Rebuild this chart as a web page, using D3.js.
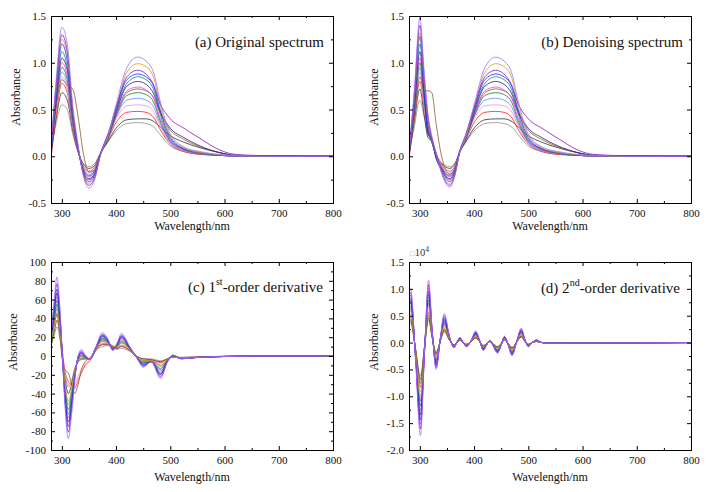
<!DOCTYPE html>
<html><head><meta charset="utf-8">
<script src="https://cdn.jsdelivr.net/npm/d3@7"></script>
<style>body{margin:0;background:#fff}</style>
</head><body><svg id="chart" width="709" height="492"></svg>
<script>
// ---------- DATA ----------
const xTicks = [300,400,500,600,700,800];
const xMinorTicks = [350,450,550,650,750];
const yTicksSpec = [-0.5,0,0.5,1,1.5];
const yMinorSpec = [-0.25,0.25,0.75,1.25];
const yTicksFirst = [-100,-80,-60,-40,-20,0,20,40,60,80,100];
const yMinorFirst = [-90,-70,-50,-30,-10,10,30,50,70,90];
const yTicksSecond = [-2,-1.5,-1,-0.5,0,0.5,1,1.5];
const yMinorSecond = [-1.75,-1.25,-0.75,-0.25,0.25,0.75,1.25];

const seriesColors = ['#a070ff','#8a10c8','#d0a020','#1030ff','#108080','#202080','#ff30ff','#108010','#8b5a2b','#5a8cff','#ff8cc8','#ff2020','#303030','#909090'];

// (a) original spectrum
const wlOriginal = [280,290,300,310,320,330,340,350,360,372,385,400,420,440,455,470,480,500,525,555,590,620,700,800];
const absOriginal = [
 [0.08,0.85,1.38,1.20,0.55,0.12,-0.22,-0.34,-0.26,0.03,0.22,0.55,0.95,1.06,1.02,0.88,0.62,0.24,0.10,0.05,0.02,0.01,0,0],
 [0.10,0.80,1.30,1.12,0.50,0.10,-0.20,-0.31,-0.24,0.04,0.24,0.52,0.85,0.92,0.88,0.75,0.58,0.40,0.30,0.19,0.07,0.02,0.003,0],
 [0.06,0.76,1.25,1.08,0.48,0.09,-0.19,-0.29,-0.23,0.03,0.21,0.52,0.90,0.99,0.96,0.83,0.57,0.22,0.09,0.04,0.015,0.005,0,0],
 [0.04,0.72,1.20,1.02,0.45,0.08,-0.18,-0.27,-0.21,0.04,0.22,0.50,0.82,0.88,0.85,0.74,0.52,0.20,0.08,0.04,0.01,0.004,0,0],
 [0.05,0.68,1.12,0.95,0.42,0.07,-0.17,-0.25,-0.20,0.04,0.20,0.48,0.78,0.85,0.82,0.70,0.48,0.18,0.08,0.03,0.01,0.004,0,0],
 [0.03,0.63,1.05,0.92,0.42,0.08,-0.16,-0.24,-0.19,0.03,0.20,0.47,0.75,0.80,0.77,0.66,0.50,0.30,0.20,0.11,0.04,0.01,0.002,0],
 [0.06,0.62,1.00,0.86,0.38,0.07,-0.14,-0.22,-0.17,0.04,0.20,0.45,0.70,0.74,0.71,0.61,0.43,0.17,0.07,0.03,0.01,0.003,0,0],
 [0.02,0.58,0.95,0.82,0.36,0.06,-0.14,-0.21,-0.16,0.04,0.19,0.43,0.65,0.68,0.66,0.57,0.40,0.16,0.07,0.03,0.01,0.003,0,0],
 [0.05,0.55,0.82,0.76,0.72,0.42,0.02,-0.17,-0.15,0.03,0.20,0.45,0.68,0.72,0.70,0.62,0.48,0.28,0.18,0.10,0.04,0.01,0.002,0],
 [0.07,0.56,0.90,0.77,0.34,0.06,-0.13,-0.20,-0.15,0.04,0.19,0.42,0.60,0.62,0.60,0.52,0.37,0.15,0.06,0.03,0.01,0.003,0,0],
 [0.09,0.52,0.85,0.72,0.32,0.06,-0.12,-0.18,-0.14,0.04,0.19,0.40,0.54,0.55,0.54,0.47,0.34,0.14,0.06,0.03,0.01,0.003,0,0],
 [-0.03,0.46,0.78,0.68,0.30,0.05,-0.11,-0.16,-0.12,0.04,0.18,0.36,0.47,0.48,0.47,0.41,0.30,0.13,0.05,0.02,0.01,0.003,0,0],
 [0.02,0.42,0.68,0.60,0.28,0.05,-0.09,-0.13,-0.10,0.04,0.16,0.30,0.39,0.40,0.40,0.37,0.32,0.22,0.15,0.09,0.04,0.01,0.002,0],
 [0.05,0.36,0.55,0.50,0.24,0.04,-0.08,-0.11,-0.08,0.04,0.15,0.27,0.35,0.36,0.35,0.31,0.24,0.11,0.05,0.02,0.01,0.003,0,0]
];

// (b) denoising spectrum
const wlDenoised = [280,290,300,308,315,322,330,340,355,365,373,385,400,420,440,455,470,480,500,525,555,590,620,700,800];
const absDenoised = [
 [0.05,0.72,1.48,0.90,0.45,0.22,0.04,-0.18,-0.33,-0.20,0.03,0.22,0.55,0.95,1.06,1.02,0.88,0.62,0.24,0.10,0.05,0.02,0.01,0,0],
 [0.06,0.68,1.40,0.85,0.42,0.20,0.03,-0.17,-0.31,-0.19,0.04,0.24,0.52,0.85,0.92,0.88,0.75,0.58,0.40,0.30,0.19,0.07,0.02,0.003,0],
 [0.02,0.64,1.32,0.80,0.40,0.19,0.02,-0.16,-0.29,-0.18,0.03,0.21,0.52,0.90,0.99,0.96,0.83,0.57,0.22,0.09,0.04,0.015,0.005,0,0],
 [0.03,0.62,1.28,0.72,0.26,0.19,-0.02,-0.15,-0.27,-0.17,0.04,0.22,0.50,0.82,0.88,0.85,0.74,0.52,0.20,0.08,0.04,0.01,0.004,0,0],
 [0.04,0.58,1.20,0.74,0.36,0.18,0.02,-0.14,-0.25,-0.16,0.04,0.20,0.48,0.78,0.85,0.82,0.70,0.48,0.18,0.08,0.03,0.01,0.004,0,0],
 [0.02,0.54,1.12,0.66,0.24,0.18,-0.02,-0.13,-0.24,-0.15,0.03,0.20,0.47,0.75,0.80,0.77,0.66,0.50,0.30,0.20,0.11,0.04,0.01,0.002,0],
 [0.05,0.52,1.05,0.66,0.33,0.16,0.02,-0.12,-0.22,-0.14,0.04,0.20,0.45,0.70,0.74,0.71,0.61,0.43,0.17,0.07,0.03,0.01,0.003,0,0],
 [0.00,0.50,1.00,0.62,0.31,0.15,0.01,-0.12,-0.21,-0.13,0.04,0.19,0.43,0.65,0.68,0.66,0.57,0.40,0.16,0.07,0.03,0.01,0.003,0,0],
 [0.04,0.45,0.85,0.70,0.70,0.68,0.35,0.00,-0.19,-0.13,0.03,0.20,0.45,0.68,0.72,0.70,0.62,0.48,0.28,0.18,0.10,0.04,0.01,0.002,0],
 [0.05,0.48,0.95,0.58,0.29,0.15,0.01,-0.11,-0.20,-0.12,0.04,0.19,0.42,0.60,0.62,0.60,0.52,0.37,0.15,0.06,0.03,0.01,0.003,0,0],
 [0.06,0.46,0.90,0.56,0.30,0.18,0.03,-0.10,-0.18,-0.11,0.04,0.19,0.40,0.54,0.55,0.54,0.47,0.34,0.14,0.06,0.03,0.01,0.003,0,0],
 [-0.04,0.42,0.80,0.52,0.28,0.17,0.03,-0.09,-0.16,-0.10,0.04,0.18,0.36,0.47,0.48,0.47,0.41,0.30,0.13,0.05,0.02,0.01,0.003,0,0],
 [0.01,0.38,0.72,0.44,0.20,0.16,-0.01,-0.08,-0.13,-0.08,0.04,0.16,0.30,0.39,0.40,0.40,0.37,0.32,0.22,0.15,0.09,0.04,0.01,0.002,0],
 [0.03,0.32,0.60,0.42,0.24,0.15,0.03,-0.07,-0.11,-0.07,0.04,0.15,0.27,0.35,0.36,0.35,0.31,0.24,0.11,0.05,0.02,0.01,0.003,0,0]
];

// (c) 1st-order derivative
const wlFirst = [280,286,291,296,301,306,312,318,324,330,336,343,352,363,375,385,394,402,410,425,440,450,465,482,495,505,520,550,600,650,800];
const derivFirst = [
 [20,60,84,55,0,-55,-88,-62,-25,0,7,1,-3,10,25,18,6,14,24,10,-4,-12,-6,-24,-6,1,-3,-1.5,-0.5,-0.1,0],
 [22,56,77,50,0,-50,-81,-57,-23,-1,5,0,-3,10,23,17,6,13,22,10,-3,-11,-6,-22,-6,1,-3,-1.5,-0.5,-0.1,0],
 [14,33,46,30,-1,-30,-48,-35,-15,-5,-2,-2,-3,8,16,14,10,10,14,7,-2,-5,-5,-11,-4,-1,-2,-1.5,-0.5,-0.1,0],
 [15,51,71,46,0,-46,-75,-53,-21,-1,4,0,-3,9,22,17,7,13,21,9,-3,-10,-6,-20,-5,0.5,-3,-1.5,-0.5,-0.1,0],
 [14,42,59,38,0,-38,-62,-44,-18,-3,1,-1,-3,9,19,15,8,11,18,8,-3,-7,-6,-16,-5,0,-2.5,-1.5,-0.5,-0.1,0],
 [12,48,67,44,0,-44,-70,-50,-20,-2,3,-1,-3,9,21,16,7,12,20,9,-3,-9,-6,-19,-5,0,-2.5,-1.5,-0.5,-0.1,0],
 [18,45,63,41,0,-41,-66,-47,-19,-3,2,-1,-3,9,20,16,8,12,19,9,-3,-8,-6,-18,-5,0,-2.5,-1.5,-0.5,-0.1,0],
 [10,39,55,36,-1,-35,-57,-41,-17,-4,0,-2,-3,8,18,15,9,11,16,8,-3,-7,-6,-14,-4,-0.5,-2.5,-1.5,-0.5,-0.1,0],
 [10,32,45,25,-5,-15,-18,-30,-40,-30,-15,-6,-2,8,16,14,10,10,14,8,-2,-5,-5,-10,-4,-1,-2,-1.5,-0.5,-0.1,0],
 [16,36,50,33,-1,-32,-52,-38,-16,-5,-1,-2,-3,8,17,14,9,10,15,8,-2,-6,-5,-13,-4,-0.5,-2,-1.5,-0.5,-0.1,0],
 [25,40,52,35,5,-20,-30,-33,-30,-22,-14,-8,-4,7,15,14,11,10,12,7,-2,-4,-5,-8,-4,-1,-2,-1,-0.4,-0.1,0],
 [30,36,44,30,5,-17,-27,-31,-34,-26,-18,-10,-5,6,13,13,11,9,11,6,-2,-4,-4,-7,-3,-1,-2,-1,-0.4,-0.1,0],
 [12,26,38,25,-1,-25,-40,-30,-14,-6,-3,-3,-3,7,12,12,10,8,10,6,-1,-3,-4,-6,-3,-1,-1.5,-1,-0.3,-0.1,0],
 [10,22,31,20,0,-20,-33,-26,-13,-6,-4,-3,-3,6,10,11,9,7,8,5,-1,-3,-3,-5,-3,-1,-1.5,-1,-0.3,-0.1,0]
];

// (d) 2nd-order derivative (x10^4)
const wlSecond = [280,283,292,301,309,316,323,330,338,345,355,363,368,374,380,386,395,403,410,417,423,429,436,443,450,456,463,470,478,487,494,500,507,515,525,540,800];
const derivSecond = [
 [0.92,1.00,-0.30,-1.73,-0.10,1.16,0.20,-0.50,0.10,0.54,0.10,-0.10,0.00,0.10,0.00,-0.08,0.05,0.22,0.05,-0.15,-0.05,0.04,-0.08,-0.20,-0.05,0.12,-0.05,-0.25,0.00,0.27,0.05,-0.08,0.00,0.05,0.00,-0.01,0],
 [0.86,0.93,-0.28,-1.61,-0.09,1.08,0.19,-0.47,0.09,0.50,0.09,-0.09,0.00,0.09,0.00,-0.07,0.05,0.20,0.05,-0.14,-0.05,0.04,-0.07,-0.19,-0.05,0.11,-0.05,-0.23,0.00,0.25,0.05,-0.07,0.00,0.05,0.00,-0.01,0],
 [0.53,0.58,-0.17,-1.00,-0.06,0.67,0.12,-0.29,0.06,0.31,0.06,-0.06,0.00,0.06,0.00,-0.05,0.03,0.13,0.03,-0.09,-0.03,0.02,-0.05,-0.12,-0.03,0.07,-0.03,-0.15,0.00,0.16,0.03,-0.05,0.00,0.03,0.00,-0.01,0],
 [0.76,0.83,-0.25,-1.44,-0.08,0.96,0.17,-0.42,0.08,0.45,0.08,-0.08,0.00,0.08,0.00,-0.07,0.04,0.18,0.04,-0.12,-0.04,0.03,-0.07,-0.17,-0.04,0.10,-0.04,-0.21,0.00,0.22,0.04,-0.07,0.00,0.04,0.00,-0.01,0],
 [0.58,0.63,-0.19,-1.09,-0.06,0.73,0.13,-0.32,0.06,0.34,0.06,-0.06,0.00,0.06,0.00,-0.05,0.03,0.14,0.03,-0.09,-0.03,0.03,-0.05,-0.13,-0.03,0.08,-0.03,-0.16,0.00,0.17,0.03,-0.05,0.00,0.03,0.00,-0.01,0],
 [0.72,0.78,-0.23,-1.35,-0.08,0.90,0.16,-0.39,0.08,0.42,0.08,-0.08,0.00,0.08,0.00,-0.06,0.04,0.17,0.04,-0.12,-0.04,0.03,-0.06,-0.16,-0.04,0.09,-0.04,-0.20,0.00,0.21,0.04,-0.06,0.00,0.04,0.00,-0.01,0],
 [0.81,0.88,-0.26,-1.52,-0.09,1.02,0.18,-0.44,0.09,0.48,0.09,-0.09,0.00,0.09,0.00,-0.07,0.04,0.19,0.04,-0.13,-0.04,0.04,-0.07,-0.18,-0.04,0.11,-0.04,-0.22,0.00,0.24,0.04,-0.07,0.00,0.04,0.00,-0.01,0],
 [0.63,0.68,-0.20,-1.18,-0.07,0.79,0.14,-0.34,0.07,0.37,0.07,-0.07,0.00,0.07,0.00,-0.05,0.03,0.15,0.03,-0.10,-0.03,0.03,-0.05,-0.14,-0.03,0.08,-0.03,-0.17,0.00,0.18,0.03,-0.05,0.00,0.03,0.00,-0.01,0],
 [0.40,0.44,-0.13,-0.76,-0.04,0.51,0.09,-0.22,0.04,0.24,0.04,-0.04,0.00,0.04,0.00,-0.04,0.02,0.10,0.02,-0.07,-0.02,0.02,-0.04,-0.09,-0.02,0.05,-0.02,-0.11,0.00,0.12,0.02,-0.04,0.00,0.02,0.00,0.00,0],
 [0.67,0.73,-0.22,-1.26,-0.07,0.85,0.15,-0.37,0.07,0.39,0.07,-0.07,0.00,0.07,0.00,-0.06,0.04,0.16,0.04,-0.11,-0.04,0.03,-0.06,-0.15,-0.04,0.09,-0.04,-0.18,0.00,0.20,0.04,-0.06,0.00,0.04,0.00,-0.01,0],
 [0.49,0.53,-0.16,-0.92,-0.05,0.61,0.11,-0.27,0.05,0.29,0.05,-0.05,0.00,0.05,0.00,-0.04,0.03,0.12,0.03,-0.08,-0.03,0.02,-0.04,-0.11,-0.03,0.06,-0.03,-0.13,0.00,0.14,0.03,-0.04,0.00,0.03,0.00,-0.01,0],
 [0.44,0.48,-0.14,-0.83,-0.05,0.56,0.10,-0.24,0.05,0.26,0.05,-0.05,0.00,0.05,0.00,-0.04,0.02,0.11,0.02,-0.07,-0.02,0.02,-0.04,-0.10,-0.02,0.06,-0.02,-0.12,0.00,0.13,0.02,-0.04,0.00,0.02,0.00,0.00,0],
 [0.37,0.40,-0.12,-0.69,-0.04,0.46,0.08,-0.20,0.04,0.22,0.04,-0.04,0.00,0.04,0.00,-0.03,0.02,0.09,0.02,-0.06,-0.02,0.02,-0.03,-0.08,-0.02,0.05,-0.02,-0.10,0.00,0.11,0.02,-0.03,0.00,0.02,0.00,0.00,0],
 [0.33,0.36,-0.11,-0.62,-0.04,0.42,0.07,-0.18,0.04,0.19,0.04,-0.04,0.00,0.04,0.00,-0.03,0.02,0.08,0.02,-0.05,-0.02,0.01,-0.03,-0.07,-0.02,0.04,-0.02,-0.09,0.00,0.10,0.02,-0.03,0.00,0.02,0.00,0.00,0]
];

// ---------- DRAWING ----------
const FONT = '"Liberation Serif","Times New Roman",serif';
const svg = d3.select('#chart');

function drawPanel(p) {
  const x = d3.scaleLinear().domain([280, 800]).range([p.L, p.R]);
  const y = d3.scaleLinear().domain(p.yDom).range([p.B, p.T]);
  const g = svg.append('g');
  svg.append('clipPath').attr('id', 'clip' + p.id)
    .append('rect').attr('x', p.L).attr('y', p.T).attr('width', p.R - p.L).attr('height', p.B - p.T);

  const wl = p.wl;
  const line = d3.line().x((d, i) => x(wl[i])).y(d => y(d)).curve(d3.curveMonotoneX);
  const lg = g.append('g').attr('clip-path', `url(#clip${p.id})`);
  for (let i = p.series.length - 1; i >= 0; i--) {
    lg.append('path').attr('d', line(p.series[i]))
      .attr('fill', 'none').attr('stroke', seriesColors[i]).attr('stroke-width', 0.8);
  }

  const addAxis = (fn, scale, vals, size, tr, fmt, pad) => {
    const a = fn(scale).tickValues(vals).tickSize(-size).tickPadding(pad || 0)
      .tickFormat(fmt || (() => ''));
    const ag = g.append('g').attr('transform', tr).call(a);
    ag.select('.domain').remove();
    ag.selectAll('line').attr('stroke', '#000').attr('stroke-width', 1);
    ag.selectAll('text').attr('font-family', FONT).attr('font-size', 11).attr('fill', '#111');
    return ag;
  };
  addAxis(d3.axisBottom, x, xTicks, 4, `translate(0,${p.B})`, d => d, 6);
  addAxis(d3.axisBottom, x, xMinorTicks, 2, `translate(0,${p.B})`);
  addAxis(d3.axisTop, x, xTicks, 4, `translate(0,${p.T})`);
  addAxis(d3.axisTop, x, xMinorTicks, 2, `translate(0,${p.T})`);
  addAxis(d3.axisLeft, y, p.yTicks, 4, `translate(${p.L},0)`, p.fmt, 5);
  addAxis(d3.axisLeft, y, p.yMinor, 2, `translate(${p.L},0)`);
  addAxis(d3.axisRight, y, p.yTicks, 4, `translate(${p.R},0)`);
  addAxis(d3.axisRight, y, p.yMinor, 2, `translate(${p.R},0)`);

  g.append('rect').attr('x', p.L + 0.5).attr('y', p.T + 0.5)
    .attr('width', p.R - p.L).attr('height', p.B - p.T)
    .attr('fill', 'none').attr('stroke', '#000').attr('stroke-width', 1);

  g.append('text').attr('x', (p.L + p.R) / 2).attr('y', p.xtY)
    .attr('text-anchor', 'middle').attr('font-family', FONT).attr('font-size', 12).attr('fill', '#111')
    .text('Wavelength/nm');
  g.append('text').attr('transform', `translate(${p.ytX},${p.ytY}) rotate(-90)`)
    .attr('text-anchor', 'middle').attr('font-family', FONT).attr('font-size', 12).attr('fill', '#111')
    .text('Absorbance');

  const t = g.append('text').attr('x', p.titleX).attr('y', p.titleY)
    .attr('text-anchor', 'end').attr('font-family', FONT).attr('font-size', 15).attr('fill', '#111');
  p.title.forEach(part => {
    const ts = t.append('tspan').text(part.t);
    if (part.sup) ts.attr('font-size', 10).attr('dy', -7);
    else if (part.after) ts.attr('dy', 7);
  });
}

const fmt1 = d => d.toFixed(1);
const fmt0 = d => String(d);

drawPanel({id: 'a', L: 51, R: 333, T: 16, B: 203, yDom: [-0.5, 1.5], wl: wlOriginal, series: absOriginal,
  yTicks: yTicksSpec, yMinor: yMinorSpec, fmt: fmt1, xtY: 230, ytX: 20, ytY: 97,
  titleX: 324, titleY: 47, title: [{t: '(a) Original spectrum'}]});
drawPanel({id: 'b', L: 409, R: 691, T: 16, B: 203, yDom: [-0.5, 1.5], wl: wlDenoised, series: absDenoised,
  yTicks: yTicksSpec, yMinor: yMinorSpec, fmt: fmt1, xtY: 230, ytX: 378, ytY: 97,
  titleX: 683, titleY: 47, title: [{t: '(b) Denoising spectrum'}]});
drawPanel({id: 'c', L: 51, R: 333, T: 262, B: 450, yDom: [-100, 100], wl: wlFirst, series: derivFirst,
  yTicks: yTicksFirst, yMinor: yMinorFirst, fmt: fmt0, xtY: 481, ytX: 17, ytY: 342,
  titleX: 323, titleY: 292, title: [{t: '(c) 1'}, {t: 'st', sup: true}, {t: '-order derivative', after: true}]});
drawPanel({id: 'd', L: 409, R: 691, T: 262, B: 450, yDom: [-2, 1.5], wl: wlSecond, series: derivSecond,
  yTicks: yTicksSecond, yMinor: yMinorSecond, fmt: fmt1, xtY: 481, ytX: 378, ytY: 342,
  titleX: 680, titleY: 293, title: [{t: '(d) 2'}, {t: 'nd', sup: true}, {t: '-order derivative', after: true}]});

// exponent label for panel (d)
const ex = svg.append('text').attr('x', 410).attr('y', 256).attr('font-family', FONT).attr('fill', '#333');
ex.append('tspan').text('\u25A1').attr('font-size', 8).attr('fill', '#aaa');
ex.append('tspan').text('10').attr('font-size', 10.5);
ex.append('tspan').text('4').attr('font-size', 7.5).attr('dy', -4);
</script>
</body></html>
